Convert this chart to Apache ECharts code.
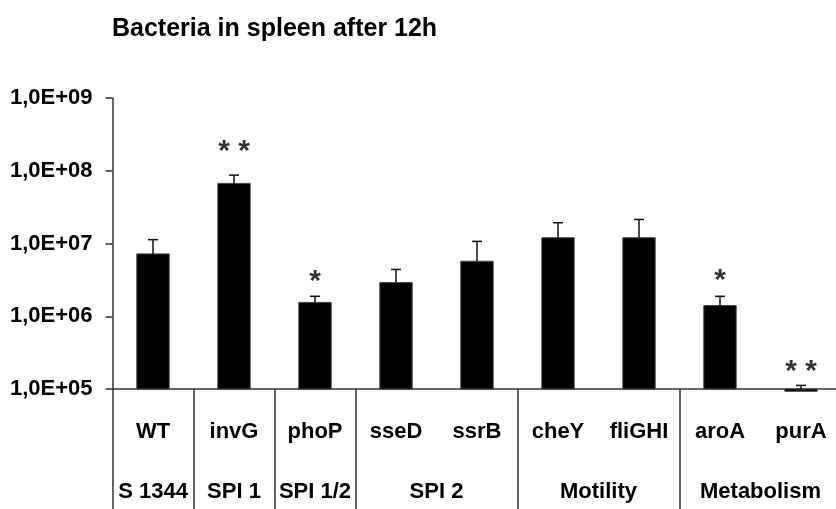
<!DOCTYPE html>
<html>
<head>
<meta charset="utf-8">
<script src="https://cdn.jsdelivr.net/npm/echarts@6/dist/echarts.min.js"></script>
<style>
  html, body { margin: 0; padding: 0; background: #fff; }
  #chart { width: 836px; height: 509px; }
</style>
</head>
<body>
<div id="chart"></div>
<script>
// strains and their groups
var strains = ['WT', 'invG', 'phoP', 'sseD', 'ssrB', 'cheY', 'fliGHI', 'aroA', 'purA'];
// group labels on a half-step axis (19 points: boundaries and centres)
var groupSlots = ['', 'S 1344', '', 'SPI 1', '', 'SPI 1/2', '', '', 'SPI 2', '', '', '', 'Motility', '', '', '', 'Metabolism', '', ''];
var groupBreaks = [0, 2, 4, 6, 10, 14, 18];

// bacteria counts (mean) and upper error
var means = [7.2e6, 6.7e7, 1.55e6, 2.9e6, 5.7e6, 1.2e7, 1.2e7, 1.4e6, 9.3e4];
var errTops = [1.13e7, 8.7e7, 1.88e6, 4.4e6, 1.07e7, 1.93e7, 2.14e7, 1.88e6, 1.12e5];

// significance marks
var stars = ['', '* *', '*', '', '', '', '', '*', '* *'];
var starLevel = [0, 2.25e8, 3.7e6, 0, 0, 0, 0, 3.8e6, 2.16e5];

var yTicks = [1e5, 1e6, 1e7, 1e8, 1e9];

var chart = echarts.init(document.getElementById('chart'));

var font = 'Liberation Sans, Arial, sans-serif';

var barData = strains.map(function (s, i) { return [i, means[i]]; });
var errData = strains.map(function (s, i) { return [i, means[i], errTops[i]]; });
var starData = [];
strains.forEach(function (s, i) {
    if (stars[i]) starData.push({ value: [i, starLevel[i]], label: { formatter: stars[i] } });
});

var option = {
    backgroundColor: '#fff',
    animation: false,
    title: {
        text: 'Bacteria in spleen after 12h',
        left: 107,
        top: 12,
        textStyle: { fontFamily: font, fontWeight: 'bold', fontSize: 25, color: '#000' }
    },
    grid: { left: 112.5, width: 729, top: 98, bottom: 120, outerBoundsMode: 'none', containLabel: false },
    xAxis: [{
        type: 'category',
        data: strains,
        position: 'bottom',
        axisLine: { lineStyle: { color: '#333', width: 1.5 } },
        axisTick: {
            show: true,
            length: 62,
            lineStyle: { color: '#333', width: 1.5 },
            interval: function (idx) { return idx === 3 || idx === 5 || idx === 7; }
        },
        axisLabel: {
            interval: 0,
            margin: 32,
            fontFamily: font, fontWeight: 'bold', fontSize: 22, color: '#000'
        }
    }, {
        type: 'category',
        data: groupSlots,
        boundaryGap: false,
        position: 'bottom',
        axisLine: { show: false },
        axisTick: {
            show: true,
            length: 125,
            lineStyle: { color: '#333', width: 1.5 },
            interval: function (idx) { return groupBreaks.indexOf(idx) >= 0; }
        },
        axisLabel: {
            interval: 0,
            margin: 92,
            showMinLabel: true,
            showMaxLabel: true,
            fontFamily: font, fontWeight: 'bold', fontSize: 22, color: '#000'
        }
    }],
    yAxis: {
        type: 'log',
        logBase: 10,
        min: yTicks[0],
        max: yTicks[yTicks.length - 1],
        axisLine: { show: true, lineStyle: { color: '#333', width: 1.5 } },
        axisTick: { show: true, length: 7, lineStyle: { color: '#333', width: 1.5 } },
        splitLine: { show: false },
        minorTick: { show: false },
        axisLabel: {
            margin: 20,
            fontFamily: font, fontWeight: 'bold', fontSize: 22, color: '#000',
            formatter: function (v) {
                var e = Math.round(Math.log10(v));
                return '1,0E+' + (e < 10 ? '0' : '') + e;
            }
        }
    },
    series: [{
        type: 'custom',
        name: 'bars',
        data: barData,
        renderItem: function (params, api) {
            var i = api.value(0);
            var top = api.coord([i, api.value(1)]);
            var base = api.coord([i, yTicks[0]]);
            var w = api.size([1, 0])[0] * 0.4;
            return {
                type: 'rect',
                shape: { x: top[0] - w / 2, y: Math.min(top[1], base[1]), width: w, height: Math.abs(base[1] - top[1]) },
                style: { fill: '#000', stroke: '#444', lineWidth: 1 }
            };
        }
    }, {
        type: 'custom',
        name: 'errors',
        data: errData,
        renderItem: function (params, api) {
            var i = api.value(0);
            var lo = api.coord([i, api.value(1)]);
            var hi = api.coord([i, api.value(2)]);
            var cap = 5;
            var st = { stroke: '#111', lineWidth: 1.5 };
            return {
                type: 'group',
                children: [{
                    type: 'line',
                    shape: { x1: lo[0], y1: Math.min(lo[1], api.coord([i, yTicks[0]])[1]), x2: hi[0], y2: hi[1] },
                    style: st
                }, {
                    type: 'line',
                    shape: { x1: hi[0] - cap, y1: hi[1], x2: hi[0] + cap, y2: hi[1] },
                    style: st
                }]
            };
        }
    }, {
        type: 'scatter',
        name: 'stars',
        data: starData,
        symbolSize: 0,
        label: {
            show: true,
            position: 'inside',
            offset: [0, 7],
            fontFamily: font, fontWeight: 'bold', fontSize: 30, color: '#000'
        }
    }]
};

chart.setOption(option);
</script>
</body>
</html>
